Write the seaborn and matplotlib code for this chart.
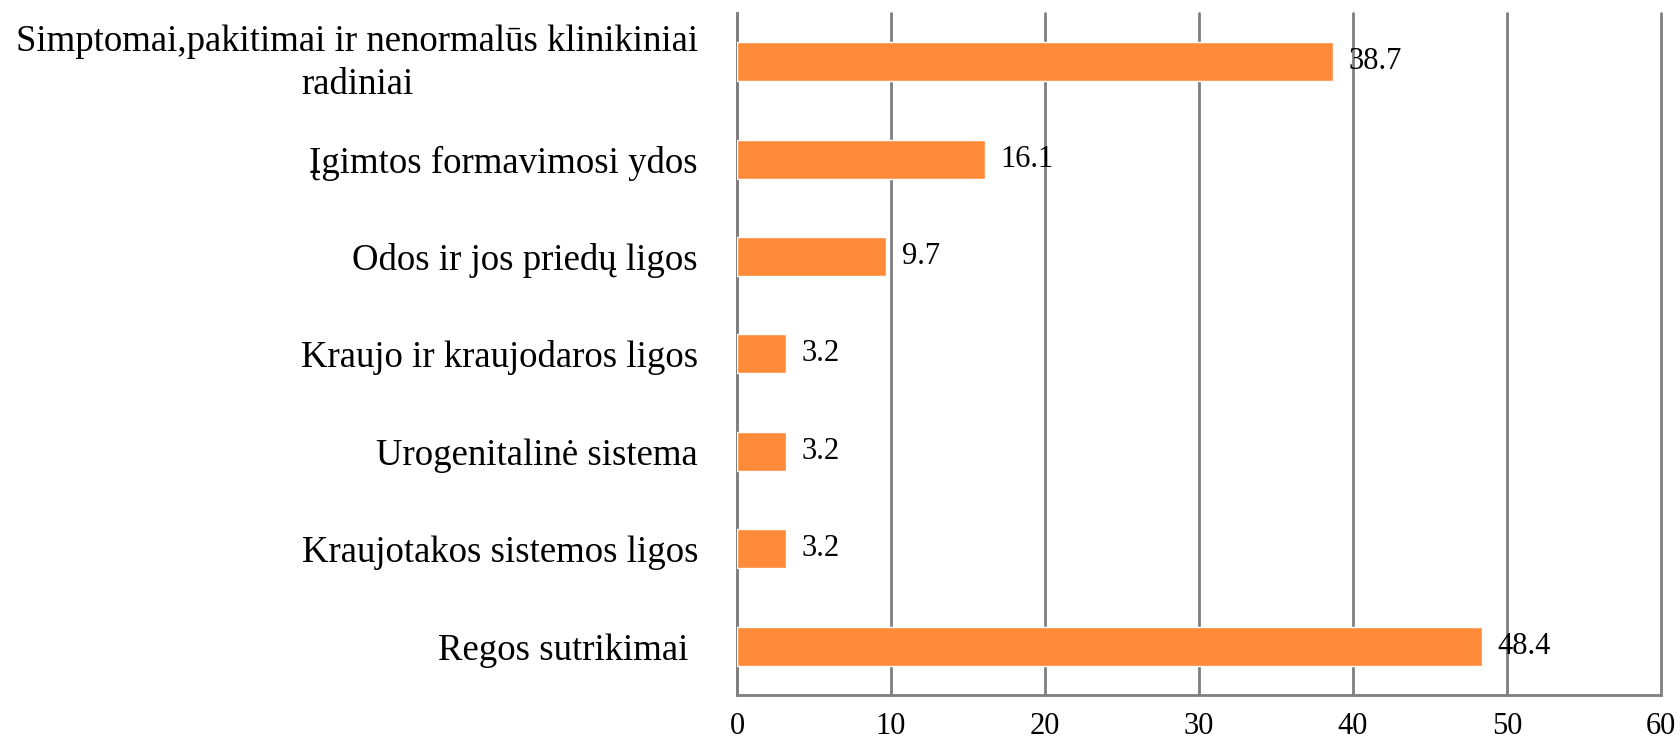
import matplotlib
matplotlib.use("Agg")
import matplotlib.pyplot as plt
import matplotlib.transforms as mtransforms
import seaborn as sns
import pandas as pd

categories = ["Simptomai,pakitimai ir nenormalūs klinikiniai\nradiniai",
              "Įgimtos formavimosi ydos",
              "Odos ir jos priedų ligos",
              "Kraujo ir kraujodaros ligos",
              "Urogenitalinė sistema",
              "Kraujotakos sistemos ligos",
              "Regos sutrikimai "]
values = [38.7, 16.1, 9.7, 3.2, 3.2, 3.2, 48.4]
xticks = [0, 10, 20, 30, 40, 50, 60]

df = pd.DataFrame({"cat": categories, "val": values})

sns.set_style("white")
plt.rcParams["font.family"] = ["Liberation Serif", "DejaVu Serif"]
plt.rcParams["text.color"] = "black"
plt.rcParams["xtick.color"] = "black"
plt.rcParams["ytick.color"] = "black"

fig = plt.figure(figsize=(16.81, 7.43), dpi=100)
ax = fig.add_axes([0.4384, 0.0646, 0.5496, 0.918])

sns.barplot(data=df, x="val", y="cat", orient="h", color="#FF8A3A",
            saturation=1, width=0.4, ax=ax)
for p in ax.patches:
    p.set_zorder(3)

grey = "#7f7f7f"
ax.set_xlim(0, 60)
ax.set_xticks(xticks)
ax.set_xticklabels([str(t) for t in xticks], fontsize=22)
ax.xaxis.grid(True, color=grey, linewidth=2)
for gl in ax.get_xgridlines():
    gl.set_clip_on(False)
    gl.set_zorder(1)
ax.set_ylim(len(categories) - 0.5, -0.5)
ax.set_yticks(range(len(categories)))
ax.set_yticklabels(categories, fontsize=26.5, multialignment="center",
                   linespacing=1.35)
ax.tick_params(axis="y", length=0, pad=28)
ax.set_yticks([i - 0.5 for i in range(len(categories) + 1)], minor=True)
ax.tick_params(axis="y", which="minor", length=8, width=1.5, color=grey)
ax.tick_params(axis="x", length=8, width=1.5, color=grey, labelcolor="black", pad=4)
ax.set_xlabel("")
ax.set_ylabel("")

# nudge the two-line label up a little
first = ax.get_yticklabels()[0]
first.set_transform(first.get_transform() +
                    mtransforms.ScaledTranslation(0, 5 / 72, fig.dpi_scale_trans))

for s in ["top", "right"]:
    ax.spines[s].set_visible(False)
for s in ["left", "bottom"]:
    ax.spines[s].set_color(grey)
    ax.spines[s].set_linewidth(2)
    ax.spines[s].set_zorder(2)

for i, v in enumerate(values):
    ax.text(v + 1.0, i, f"{v}", va="center", ha="left", fontsize=22, zorder=4)

fig.savefig("out.png", dpi=100)
